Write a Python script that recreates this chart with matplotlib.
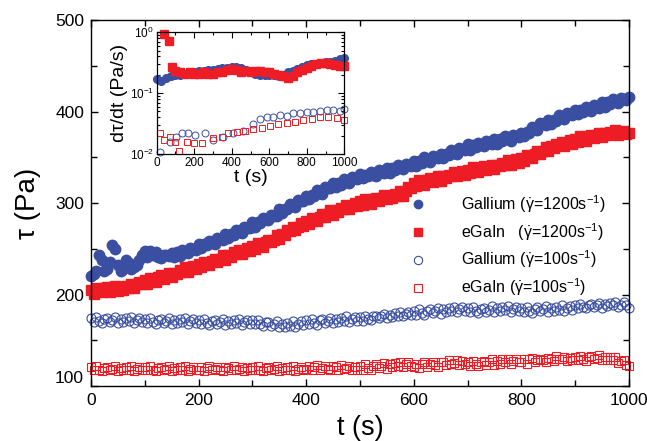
import matplotlib
matplotlib.use('Agg')
import matplotlib.pyplot as plt
from matplotlib.ticker import MultipleLocator, LogLocator, NullFormatter

plt.rcParams['font.family'] = ['Liberation Sans', 'DejaVu Sans']
plt.rcParams['mathtext.fontset'] = 'custom'
plt.rcParams['mathtext.rm'] = 'Liberation Sans'
plt.rcParams['mathtext.it'] = 'Liberation Sans:italic'
plt.rcParams['mathtext.bf'] = 'Liberation Sans:bold'

BLUE = '#3a4fa2'
RED = '#ee1d25'

# main panel, one reading every 5 s
t_main = list(range(0, 1001, 5))

ga_1200 = [220, 222, 226, 243, 238, 226, 228, 236, 254, 250, 232, 226, 228, 238, 234, 228, 230, 232, 238, 243,
           248, 241, 248, 243, 247, 241, 240, 243, 243, 242, 245, 241, 246, 242, 249, 246, 245, 251, 250, 249,
           255, 251, 255, 254, 259, 257, 255, 262, 261, 260, 266, 262, 266, 265, 271, 269, 267, 274, 273, 273,
           279, 274, 279, 278, 284, 282, 281, 287, 286, 286, 293, 289, 294, 293, 299, 297, 296, 303, 302, 302,
           308, 304, 309, 308, 314, 311, 310, 317, 316, 316, 322, 317, 322, 320, 326, 323, 322, 328, 327, 326,
           332, 327, 331, 329, 334, 331, 330, 336, 334, 333, 338, 333, 338, 336, 342, 339, 337, 343, 342, 341,
           346, 341, 346, 344, 350, 347, 345, 351, 350, 349, 354, 349, 354, 352, 358, 355, 354, 360, 359, 358,
           364, 358, 363, 361, 366, 363, 362, 368, 366, 365, 370, 365, 370, 368, 373, 370, 368, 374, 373, 372,
           377, 373, 378, 377, 383, 381, 380, 387, 386, 385, 391, 386, 391, 390, 396, 393, 392, 398, 397, 396,
           402, 397, 402, 400, 405, 402, 401, 407, 405, 404, 410, 405, 410, 408, 414, 411, 409, 415, 414, 413,
           416]

egain_1200 = [205, 201, 207, 204, 203, 207, 208, 203, 205, 209, 204, 208, 205, 209, 207, 212, 207, 211, 214, 211,
              216, 212, 218, 215, 214, 219, 221, 217, 220, 224, 219, 224, 222, 227, 225, 230, 225, 228, 231, 228,
              233, 230, 236, 233, 232, 237, 239, 236, 239, 243, 238, 243, 241, 246, 244, 249, 244, 248, 251, 248,
              253, 250, 256, 253, 252, 257, 260, 257, 260, 265, 261, 266, 265, 270, 269, 274, 270, 274, 278, 275,
              280, 277, 284, 281, 280, 285, 288, 285, 288, 292, 287, 292, 290, 295, 293, 298, 293, 297, 300, 297,
              302, 298, 304, 300, 299, 304, 306, 302, 305, 309, 304, 308, 306, 310, 308, 313, 308, 313, 318, 316,
              322, 319, 325, 321, 320, 325, 327, 323, 326, 329, 324, 329, 327, 331, 329, 334, 329, 332, 335, 331,
              336, 333, 339, 335, 334, 338, 340, 336, 339, 342, 337, 342, 340, 344, 342, 347, 342, 345, 348, 344,
              349, 346, 353, 350, 349, 354, 357, 354, 357, 361, 357, 362, 360, 365, 363, 367, 362, 366, 369, 365,
              370, 367, 373, 369, 368, 372, 374, 371, 374, 377, 372, 376, 374, 378, 376, 380, 374, 377, 379, 375,
              377]

ga_100 = [174, 170, 175, 171, 169, 173, 174, 170, 172, 175, 169, 173, 170, 174, 171, 175, 169, 172, 174, 170,
          173, 169, 174, 170, 168, 172, 173, 169, 171, 174, 168, 172, 169, 173, 170, 174, 168, 171, 173, 169,
          172, 168, 173, 169, 167, 171, 172, 168, 170, 173, 167, 171, 168, 172, 169, 173, 167, 170, 172, 168,
          172, 168, 172, 168, 166, 170, 170, 166, 168, 171, 165, 168, 165, 169, 166, 171, 165, 168, 171, 167,
          172, 168, 173, 169, 167, 172, 173, 169, 171, 174, 169, 173, 170, 174, 171, 176, 170, 173, 175, 171,
          175, 171, 177, 173, 172, 176, 177, 174, 176, 179, 174, 178, 175, 180, 177, 181, 176, 179, 181, 178,
          182, 178, 184, 180, 178, 182, 184, 180, 182, 185, 179, 184, 181, 185, 182, 186, 181, 184, 186, 182,
          185, 181, 186, 182, 180, 184, 185, 181, 183, 187, 181, 185, 182, 186, 183, 187, 181, 184, 186, 182,
          185, 181, 186, 182, 180, 184, 186, 182, 184, 187, 181, 185, 182, 186, 183, 188, 182, 185, 187, 183,
          189, 185, 190, 186, 185, 189, 190, 186, 188, 191, 185, 190, 187, 191, 188, 192, 186, 189, 192, 188,
          185]

egain_100 = [121, 117, 122, 118, 116, 120, 121, 117, 119, 122, 116, 120, 117, 121, 118, 122, 116, 119, 121, 117,
             121, 117, 122, 118, 116, 120, 121, 117, 119, 122, 116, 120, 117, 121, 118, 122, 116, 119, 121, 117,
             118, 121, 116, 120, 122, 117, 119, 121, 118, 116, 121, 120, 117, 122, 118, 119, 121, 116, 120, 117,
             121, 117, 122, 118, 116, 120, 121, 117, 119, 122, 116, 120, 117, 121, 118, 122, 116, 119, 121, 117,
             119, 122, 117, 121, 123, 118, 120, 122, 119, 117, 122, 121, 118, 123, 119, 120, 122, 117, 121, 118,
             122, 118, 124, 120, 118, 122, 124, 120, 122, 125, 119, 124, 121, 125, 122, 126, 121, 124, 126, 122,
             121, 124, 120, 124, 126, 121, 124, 126, 123, 121, 126, 126, 123, 128, 124, 125, 128, 123, 127, 124,
             126, 122, 127, 124, 122, 126, 127, 123, 126, 129, 123, 127, 124, 129, 126, 130, 124, 127, 130, 126,
             126, 129, 124, 129, 131, 126, 128, 130, 128, 126, 131, 130, 127, 133, 129, 130, 132, 127, 131, 128,
             132, 128, 133, 129, 127, 132, 133, 129, 131, 134, 128, 132, 128, 132, 128, 132, 125, 127, 128, 123,
             122]

# inset: dtau/dt
t_ga_1200_in = list(range(0, 1001, 25))
ga_1200_in = [0.17, 0.16, 0.18, 0.19, 0.20, 0.20, 0.21, 0.22, 0.22, 0.23,
              0.23, 0.24, 0.24, 0.25, 0.26, 0.26, 0.27, 0.27, 0.26, 0.24,
              0.22, 0.21, 0.20, 0.20, 0.20, 0.20, 0.19, 0.20, 0.22, 0.23,
              0.25, 0.27, 0.29, 0.30, 0.30, 0.31, 0.32, 0.33, 0.34, 0.36,
              0.38]

t_eg_1200_in = [40, 65, 80, 100, 125, 150, 175, 200, 225, 250, 275, 300,
                325, 350, 375, 400, 425, 450, 475, 500, 525, 550, 575, 600,
                625, 650, 675, 700, 725, 750, 775, 800, 825, 850, 875, 900,
                925, 950, 975, 1000]
eg_1200_in = [0.95, 0.72, 0.27, 0.23, 0.22, 0.21, 0.22, 0.21, 0.21, 0.22,
              0.21, 0.21, 0.22, 0.22, 0.24, 0.25, 0.24, 0.22, 0.23, 0.22,
              0.23, 0.23, 0.22, 0.22, 0.21, 0.20, 0.19, 0.18, 0.19, 0.22,
              0.24, 0.26, 0.28, 0.30, 0.31, 0.31, 0.30, 0.29, 0.28, 0.28]

t_ga_100_in = [18, 71, 103, 133, 169, 204, 258, 302, 355, 409, 462, 515,
               551, 586, 622, 657, 693, 728, 764, 799, 835, 870, 906, 941,
               977, 1000]
ga_100_in = [0.0109, 0.016, 0.0188, 0.0224, 0.0219, 0.0205, 0.0219, 0.017,
             0.0193, 0.0219, 0.0242, 0.0311, 0.0371, 0.040, 0.041, 0.0438,
             0.042, 0.0466, 0.0466, 0.0497, 0.049, 0.0516, 0.0528, 0.0528,
             0.0516, 0.054]

t_eg_100_in = [18, 39, 71, 98, 121, 160, 199, 240, 302, 346, 382, 426,
               471, 515, 560, 604, 648, 693, 737, 782, 826, 870, 915, 959,
               998]
eg_100_in = [0.022, 0.017, 0.0193, 0.016, 0.011, 0.016, 0.015, 0.015, 0.018,
             0.0193, 0.0219, 0.0233, 0.0242, 0.0254, 0.0264, 0.0288, 0.031,
             0.0327, 0.034, 0.0362, 0.0376, 0.040, 0.040, 0.0386, 0.0362]

labels = ['Gallium ($\\mathrm{\\dot{\\gamma}}$=1200s$^{-1}$)',
          'eGaIn   ($\\mathrm{\\dot{\\gamma}}$=1200s$^{-1}$)',
          'Gallium ($\\mathrm{\\dot{\\gamma}}$=100s$^{-1}$)',
          'eGaIn ($\\mathrm{\\dot{\\gamma}}$=100s$^{-1}$)']

fig = plt.figure(figsize=(6.47, 4.41), dpi=100)
ax = fig.add_axes([0.1406, 0.1247, 0.8314, 0.8299])

ax.plot(t_main, ga_1200, 'o', ms=7.5, color=BLUE, mec=BLUE, clip_on=False, label=labels[0])
ax.plot(t_main, egain_1200, 's', ms=6.8, color=RED, mec=RED, clip_on=False, label=labels[1])
ax.plot(t_main, ga_100, 'o', ms=6.5, mfc='none', mec=BLUE, mew=0.8, clip_on=False, label=labels[2])
ax.plot(t_main, egain_100, 's', ms=6, mfc='none', mec=RED, mew=0.8, clip_on=False, label=labels[3])

ax.set_xlim(0, 1000)
ax.set_ylim(100, 500)
ax.xaxis.set_major_locator(MultipleLocator(200))
ax.xaxis.set_minor_locator(MultipleLocator(100))
ax.yaxis.set_major_locator(MultipleLocator(100))
ax.yaxis.set_minor_locator(MultipleLocator(50))
ax.tick_params(which='both', direction='in', top=True, right=True, width=1)
ax.tick_params(which='major', length=5, labelsize=12.5, pad=5)
ax.tick_params(which='minor', length=4.5)
for s in ax.spines.values():
    s.set_linewidth(1)
ax.set_xlabel('t (s)', fontsize=19.5, labelpad=5)
ax.set_ylabel('τ (Pa)', fontsize=20, labelpad=10)

leg = ax.legend(loc='upper left', bbox_to_anchor=(0.621, 0.562), bbox_transform=fig.transFigure,
                frameon=False, fontsize=11.5, handlelength=2, handletextpad=1.7,
                labelspacing=0.38, borderpad=0, borderaxespad=0, numpoints=1)
for h in leg.legend_handles:
    h.set_markersize(6)

# inset
ins = fig.add_axes([0.2422, 0.6508, 0.2900, 0.2760])
ins.plot(t_ga_1200_in, ga_1200_in, 'o', ms=5.5, color=BLUE, clip_on=False)
ins.plot(t_eg_1200_in, eg_1200_in, 's', ms=5.2, color=RED, clip_on=False)
ins.plot(t_ga_100_in, ga_100_in, 'o', ms=5, mfc='none', mec=BLUE, mew=0.7, clip_on=False)
ins.plot(t_eg_100_in, eg_100_in, 's', ms=4.7, mfc='none', mec=RED, mew=0.7, clip_on=False)
ins.set_yscale('log')
ins.set_xlim(0, 1000)
ins.set_ylim(0.01, 1)
ins.xaxis.set_major_locator(MultipleLocator(200))
ins.xaxis.set_minor_locator(MultipleLocator(100))
ins.yaxis.set_major_locator(LogLocator(base=10))
ins.yaxis.set_minor_locator(LogLocator(base=10, subs=range(2, 10)))
ins.yaxis.set_minor_formatter(NullFormatter())
ins.tick_params(which='both', direction='in', top=True, right=True, width=0.8)
ins.tick_params(which='major', length=4, labelsize=8.5, pad=2)
ins.tick_params(which='minor', length=2.5)
for s in ins.spines.values():
    s.set_linewidth(0.9)
ins.set_xlabel('t (s)', fontsize=14, labelpad=0)
ins.set_ylabel('dτ/dt (Pa/s)', fontsize=14, labelpad=1)

# lift the "100" label off the "0" of the x axis, as in the original
fig.canvas.draw()
for lab in ax.get_yticklabels():
    if lab.get_text() == '100':
        lab.set_va('bottom')

fig.savefig('out.png', dpi=100)
